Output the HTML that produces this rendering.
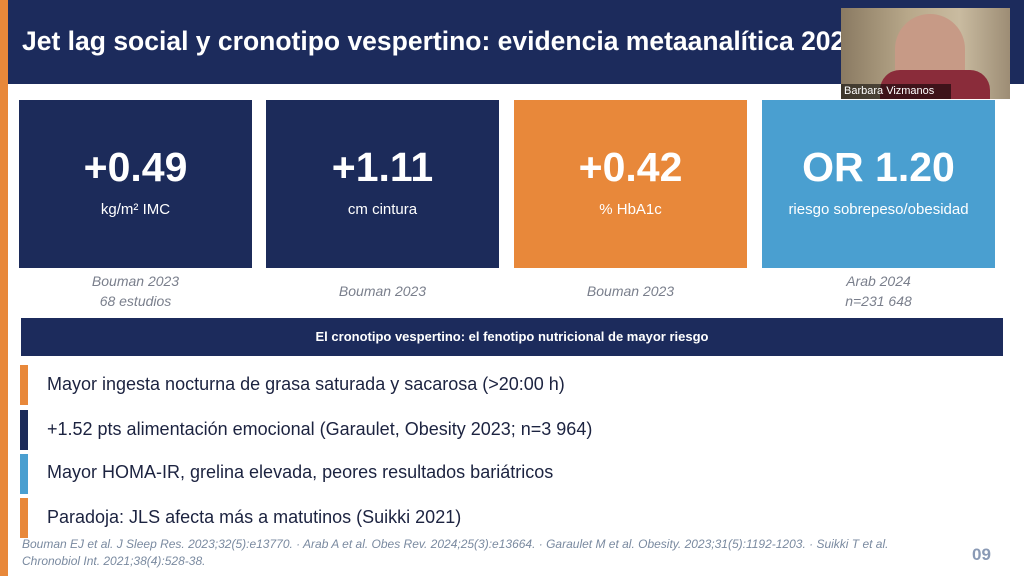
<!DOCTYPE html>
<html><head><meta charset="utf-8"><style>
body{margin:0;width:1024px;height:576px;background:#fff;position:relative;overflow:hidden;font-family:"Liberation Sans",sans-serif}
div{position:absolute;box-sizing:border-box}
.card{top:100px;height:168px;width:233px;color:#fff;text-align:center}
.big{position:absolute;left:0;right:0;top:44px;font-size:41px;font-weight:bold}
.sm{position:absolute;left:0;right:0;top:101px;font-size:15px}
.cap{top:271px;width:233px;text-align:center;color:#7a7f8c;font-style:italic;font-size:14px;line-height:20px}
.bar{left:20px;width:8px;height:40px}
.bt{left:47px;font-size:18px;color:#1c2340;white-space:nowrap}
</style></head><body>
<div style="left:0;top:0;width:8px;height:576px;background:#e8883a"></div>
<div style="left:8px;top:0;width:1016px;height:84px;background:#1c2b5c"></div>
<div style="left:22px;top:26px;font-size:26.5px;font-weight:bold;color:#fff;white-space:nowrap">Jet lag social y cronotipo vespertino: evidencia metaanalítica 2023</div>
<div style="left:841px;top:8px;width:169px;height:91px;background:linear-gradient(90deg,#8a7a62,#b8a88a 40%,#c9bba0 70%,#9d8d75)"></div>
<div style="left:895px;top:14px;width:70px;height:85px;border-radius:35px 35px 10px 10px;background:#c79a86"></div>
<div style="left:880px;top:70px;width:110px;height:29px;background:#8a2c3a;border-radius:20px 20px 0 0"></div>
<div style="left:841px;top:84px;width:110px;height:15px;background:rgba(0,0,0,.55);color:#fff;font-size:11px;padding-left:3px;line-height:15px">Barbara Vizmanos</div>

<div class="card" style="left:19px;background:#1c2b5a"><div class="big">+0.49</div><div class="sm">kg/m² IMC</div></div>
<div class="card" style="left:266px;background:#1c2b5a"><div class="big">+1.11</div><div class="sm">cm cintura</div></div>
<div class="card" style="left:514px;background:#e8883a"><div class="big">+0.42</div><div class="sm">% HbA1c</div></div>
<div class="card" style="left:762px;background:#4a9fd0"><div class="big">OR 1.20</div><div class="sm">riesgo sobrepeso/obesidad</div></div>
<div class="cap" style="left:19px">Bouman 2023<br>68 estudios</div>
<div class="cap" style="left:266px;top:281px">Bouman 2023</div>
<div class="cap" style="left:514px;top:281px">Bouman 2023</div>
<div class="cap" style="left:762px">Arab 2024<br>n=231 648</div>

<div style="left:21px;top:318px;width:982px;height:38px;background:#1c2b5c;color:#fff;font-weight:bold;font-size:13px;text-align:center;line-height:38px">El cronotipo vespertino: el fenotipo nutricional de mayor riesgo</div>

<div class="bar" style="top:365px;background:#e8883a"></div><div class="bt" style="top:374px">Mayor ingesta nocturna de grasa saturada y sacarosa (&gt;20:00 h)</div>
<div class="bar" style="top:410px;background:#1c2b5a"></div><div class="bt" style="top:419px">+1.52 pts alimentación emocional (Garaulet, Obesity 2023; n=3 964)</div>
<div class="bar" style="top:454px;background:#4a9fd0"></div><div class="bt" style="top:462px">Mayor HOMA-IR, grelina elevada, peores resultados bariátricos</div>
<div class="bar" style="top:498px;height:40px;background:#e8883a"></div><div class="bt" style="top:507px">Paradoja: JLS afecta más a matutinos (Suikki 2021)</div>

<div style="left:22px;top:536px;width:925px;font-size:12px;font-style:italic;color:#7a8aa0;line-height:17px">Bouman EJ et al. J Sleep Res. 2023;32(5):e13770. · Arab A et al. Obes Rev. 2024;25(3):e13664. · Garaulet M et al. Obesity. 2023;31(5):1192-1203. · Suikki T et al.<br>Chronobiol Int. 2021;38(4):528-38.</div>
<div style="left:972px;top:545px;font-size:17px;font-weight:bold;color:#8a9ab5">09</div>
</body></html>
